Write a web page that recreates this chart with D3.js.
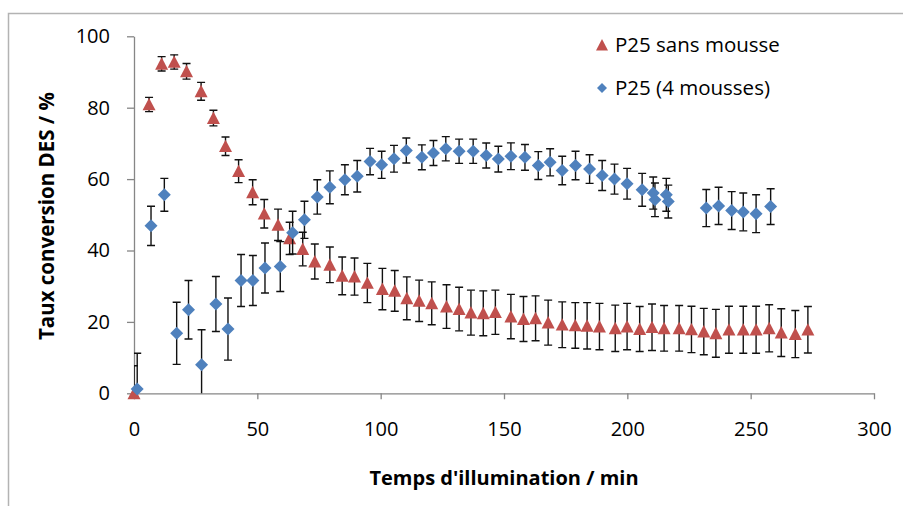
<!DOCTYPE html>
<html>
<head>
<meta charset="utf-8">
<script src="https://cdn.jsdelivr.net/npm/d3@7"></script>
<style>
  body { margin: 0; background: #fff; }
  svg { display: block; font-family: "Open Sans", sans-serif; }
</style>
</head>
<body>
<svg id="chart" width="903" height="506"></svg>
<script>
// P25 sans mousse (red triangles)
const redX = [0, 6.1, 11.2, 16.3, 21.3, 27.2, 32.2, 37.1, 42.4, 48.1, 52.8, 58.4, 63.1, 68.4, 73.3, 79.4, 84.4, 89.4, 94.6, 100.7,
  105.7, 110.6, 115.6, 120.7, 126.7, 131.8, 136.6, 141.6, 146.5, 152.8, 157.9, 162.8, 167.9, 173.6, 178.9, 183.7, 188.7, 195.1, 199.9, 205,
  210, 214.9, 221, 226, 231, 235.9, 241.2, 247, 252.2, 257.5, 262.4, 268.1, 273.2]
const redY = [0, 80.9, 92.3, 92.8, 90.2, 84.6, 77.1, 69.2, 62.2, 56.3, 50.3, 47.2, 43.4, 40.4, 36.9, 36, 32.9, 32.7, 30.9, 29.2,
  28.7, 26.6, 25.9, 25.2, 24.3, 23.6, 22.6, 22.4, 22.7, 21.5, 20.8, 21, 19.8, 19.2, 19, 18.9, 18.7, 18.2, 18.7, 18,
  18.5, 18.2, 18.2, 17.9, 17.3, 16.8, 17.8, 17.8, 17.8, 18.2, 17, 16.6, 17.8]
const redErr = [7.7, 2, 2, 2, 2.2, 2.5, 2.2, 2.6, 3.2, 3.5, 4, 4.4, 4.5, 4.7, 4.9, 5, 5.3, 5.2, 5.5, 5.8,
  5.7, 6, 5.8, 6, 6.1, 6.1, 6.3, 6.3, 6.2, 6.2, 6.3, 6.3, 6.3, 6.4, 6.4, 6.5, 6.5, 6.5, 6.5, 6.3,
  6.5, 6.4, 6.4, 6.5, 6.5, 6.7, 6.6, 6.6, 6.6, 6.6, 6.7, 6.6, 6.5]

// P25 (4 mousses) (blue diamonds)
const blueX = [1.3, 6.9, 12.3, 17.3, 22.1, 27.4, 33.2, 38.1, 43.4, 48.2, 53.1, 59.3, 64.3, 69.1, 74.3, 79.4, 85.5, 90.5, 95.7, 100.4,
  105.4, 110.4, 116.7, 121.4, 126.4, 131.8, 137.5, 142.8, 147.7, 152.8, 158.5, 163.9, 168.7, 173.6, 179, 184.7, 189.8, 194.8, 199.9, 206,
  210.5, 211.2, 215.8, 216.6, 232, 237, 242.3, 247, 252.2, 258.1]
const blueY = [1.2, 46.9, 55.6, 16.8, 23.4, 8.0, 25, 18, 31.6, 31.6, 35.1, 35.5, 45, 48.6, 55, 57.7, 59.8, 60.8, 64.9, 64.0,
  65.7, 68.0, 66.1, 67.3, 68.5, 67.8, 67.8, 66.6, 65.6, 66.4, 66.1, 63.8, 64.7, 62.4, 63.8, 62.8, 61, 60, 58.7, 57,
  56.1, 54.2, 55.6, 53.7, 51.9, 52.5, 51.2, 50.8, 50.3, 52.3]
const blueErr = [10, 5.5, 4.6, 8.7, 8.2, 9.8, 7.7, 8.7, 7.3, 7, 7, 7, 6, 5.2, 4.8, 4.6, 4.2, 4.4, 3.7, 3.8,
  3.75, 3.5, 3.5, 3.5, 3.4, 3.4, 3.4, 3.5, 3.6, 3.75, 3.6, 3.9, 3.8, 4, 4, 4, 4.2, 4.2, 4.3, 4.6,
  4.5, 4.7, 4.6, 4.6, 5.2, 5.2, 5.3, 5.3, 5.3, 5]

const xTicks = [0, 50, 100, 150, 200, 250, 300]
const yTicks = [0, 20, 40, 60, 80, 100]
const seriesNames = ["P25 sans mousse", "P25 (4 mousses)"]
const seriesColors = ["#C0504D", "#4F81BD"]

const svg = d3.select("#chart")

// outer chart border (Excel frame)
svg.append("path")
    .attr("d", "M8.5,506 L8.5,13.5 L903,13.5")
    .attr("fill", "none").attr("stroke", "#b3b3b3").attr("stroke-width", 1.5)

const x = d3.scaleLinear().domain([0, 300]).range([134, 874])
const y = d3.scaleLinear().domain([0, 100]).range([393.3, 36.3])

svg.append("clipPath").attr("id", "plotclip")
    .append("rect").attr("x", 134).attr("y", 36.3).attr("width", 740).attr("height", 357)

// AXES
const axisColor = "#868686"
const gx = svg.append("g")
    .attr("transform", "translate(0," + y(0) + ")")
    .call(d3.axisBottom(x).tickValues(xTicks).tickSizeInner(6).tickSizeOuter(0).tickPadding(23))
const gy = svg.append("g")
    .attr("transform", "translate(" + x(0) + ",0)")
    .call(d3.axisLeft(y).tickValues(yTicks).tickSizeInner(7).tickSizeOuter(0).tickPadding(17))

for (let g of [gx, gy]) {
    g.select(".domain").attr("stroke", axisColor).attr("stroke-width", 1.3)
    g.selectAll(".tick line").attr("stroke", axisColor).attr("stroke-width", 1.3)
    g.selectAll(".tick text")
        .attr("fill", "#000")
        .style("font-family", "'Open Sans', sans-serif")
        .style("font-size", "20px")
}
// END AXES

svg.append("text")
    .text("Temps d'illumination / min")
    .attr("x", 504).attr("y", 485)
    .style("text-anchor", "middle")
    .style("font-weight", "bold")
    .style("font-size", "20px")

svg.append("text")
    .text("Taux conversion DES / %")
    .attr("transform", "translate(54,216) rotate(-90)")
    .style("text-anchor", "middle")
    .style("font-weight", "bold")
    .style("font-size", "20.5px")

const triangle = (cx, cy, s) => "M" + cx + "," + (cy - s * 0.5) + "L" + (cx + s * 0.5) + "," + (cy + s * 0.45) + "L" + (cx - s * 0.5) + "," + (cy + s * 0.45) + "Z"
const diamond = (cx, cy, s) => "M" + cx + "," + (cy - s / 2) + "L" + (cx + s / 2) + "," + cy + "L" + cx + "," + (cy + s / 2) + "L" + (cx - s / 2) + "," + cy + "Z"

const series = [
    {xs: redX, ys: redY, es: redErr, color: seriesColors[0], shape: triangle, size: 13},
    {xs: blueX, ys: blueY, es: blueErr, color: seriesColors[1], shape: diamond, size: 13}
]

for (let s of series) {
    let pts = s.xs.map((v, i) => ({x: v, y: s.ys[i], e: s.es[i]}))
    let eb = svg.append("g").attr("clip-path", "url(#plotclip)")
    let bars = eb.selectAll("g").data(pts).enter().append("g")
    bars.append("line")
        .attr("x1", d => x(d.x)).attr("x2", d => x(d.x))
        .attr("y1", d => y(d.y - d.e)).attr("y2", d => y(d.y + d.e))
        .attr("stroke", "#111").attr("stroke-width", 1.4)
    for (let sign of [-1, 1]) {
        bars.append("line")
            .attr("x1", d => x(d.x) - 4).attr("x2", d => x(d.x) + 4)
            .attr("y1", d => y(d.y + sign * d.e)).attr("y2", d => y(d.y + sign * d.e))
            .attr("stroke", "#111").attr("stroke-width", 1.4)
    }
    svg.append("g").selectAll("path").data(pts).enter().append("path")
        .attr("d", d => s.shape(x(d.x), y(d.y), s.size))
        .attr("fill", s.color)
}

// legend
let leg = svg.append("g")
leg.append("path").attr("d", triangle(602, 45, 12)).attr("fill", seriesColors[0])
leg.append("path").attr("d", diamond(602, 88, 10)).attr("fill", seriesColors[1])
leg.append("text").text(seriesNames[0]).attr("x", 615).attr("y", 52).style("font-size", "20.5px")
leg.append("text").text(seriesNames[1]).attr("x", 615).attr("y", 95).style("font-size", "20.5px")
</script>
</body>
</html>
